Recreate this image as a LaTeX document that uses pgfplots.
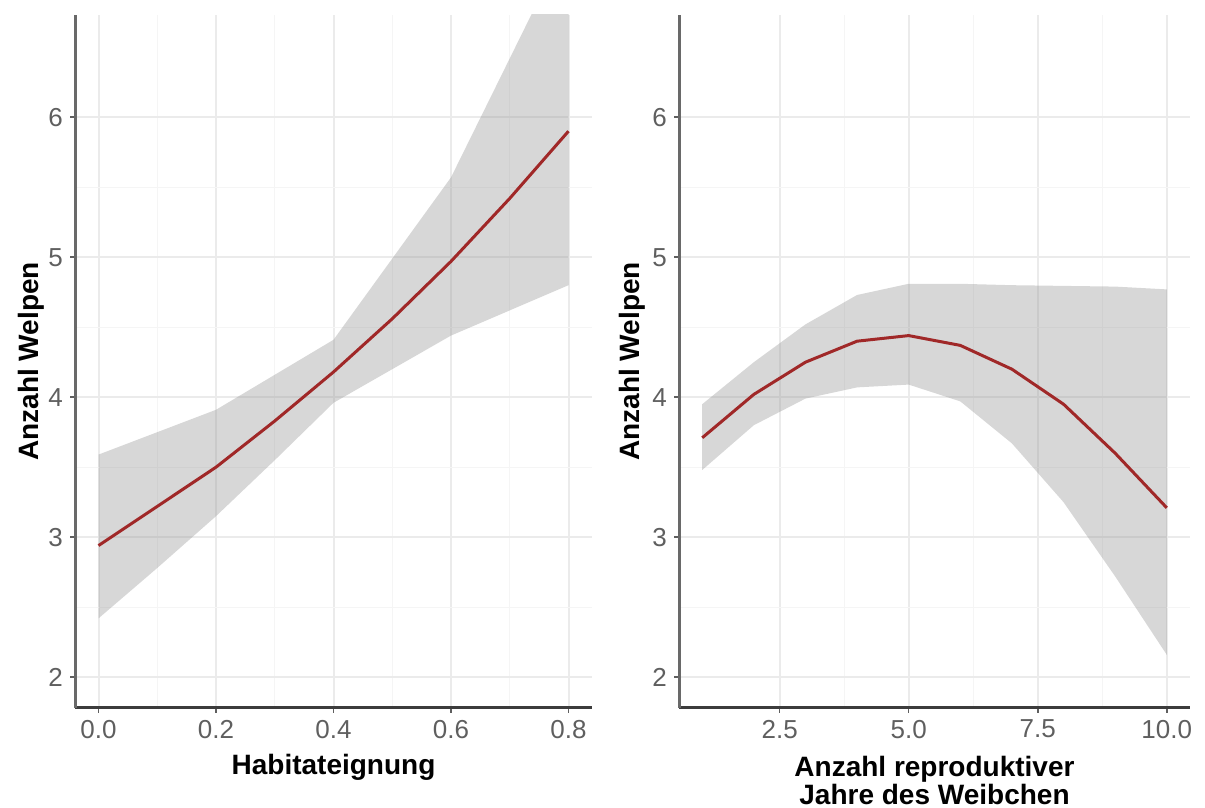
\documentclass[border=0pt]{standalone}
\usepackage{pgfplots}
\pgfplotsset{compat=1.18}
\usepgfplotslibrary{fillbetween}
\usepackage{fontspec}
\setmainfont{Liberation Sans}
\definecolor{linered}{RGB}{160,40,40}
\definecolor{ribbongrey}{RGB}{150,150,150}
\definecolor{tickgrey}{RGB}{95,95,95}
\definecolor{yaxisgrey}{RGB}{105,105,105}
\definecolor{xaxisgrey}{RGB}{60,60,60}
\definecolor{majgrid}{RGB}{235,235,235}
\definecolor{mingrid}{RGB}{245,245,245}

\pgfplotstableread{
x lo mid up
0.0 2.42 2.94 3.59
0.1 2.78 3.22 3.75
0.2 3.15 3.50 3.91
0.3 3.55 3.83 4.16
0.4 3.96 4.18 4.41
0.5 4.20 4.56 4.99
0.6 4.44 4.97 5.57
0.7 4.62 5.42 6.42
0.8 4.80 5.90 7.27
}\habitat

\pgfplotstableread{
x lo mid up
1 3.48 3.71 3.95
2 3.80 4.02 4.25
3 3.99 4.25 4.52
4 4.07 4.40 4.73
5 4.09 4.44 4.81
6 3.97 4.37 4.81
7 3.67 4.20 4.80
8 3.25 3.95 4.795
9 2.72 3.60 4.79
10 2.16 3.21 4.77
}\jahre

\begin{document}
\begin{tikzpicture}
\pgfplotsset{
  common/.style={
    scale only axis,
    height=346.5pt,
    ymin=1.78, ymax=6.73,
    ytick={2,3,4,5,6},
    minor y tick num=1,
    minor x tick num=1,
    axis x line=bottom,
    axis y line=left,
    x axis line style={-, line width=1.5pt, color=xaxisgrey},
    y axis line style={-, line width=1.5pt, color=yaxisgrey},
    tick align=outside,
    major tick length=2.5pt,
    minor tick length=0pt,
    tick style={color=tickgrey, line width=0.8pt},
    grid=both,
    major grid style={color=majgrid, line width=1pt},
    minor grid style={color=mingrid, line width=0.6pt},
    /pgf/number format/assume math mode=true,
    ticklabel style={font=\fontsize{13}{15}\selectfont, color=tickgrey},
    label style={font=\fontsize{14}{14}\bfseries\selectfont, color=black},
    xticklabel style={/pgf/number format/.cd, fixed, fixed zerofill, precision=1},
    yticklabel style={/pgf/number format/.cd, fixed, precision=0},
  }
}
\begin{axis}[common, at={(0,0)}, anchor=south west, width=258.5pt,
  xmin=-0.04, xmax=0.84, xtick={0,0.2,0.4,0.6,0.8},
  xlabel={Habitateignung}, ylabel={Anzahl Welpen},
  xlabel style={at={(axis description cs:0.5,-0.0851)}, anchor=center},
  ylabel style={at={(axis description cs:-0.0841,0.5)}, anchor=center}]
  \addplot[name path=up, draw=none, forget plot] table[x=x, y=up] {\habitat};
  \addplot[name path=lo, draw=none, forget plot] table[x=x, y=lo] {\habitat};
  \addplot[fill=ribbongrey, fill opacity=0.38, draw=none] fill between[of=up and lo];
  \addplot[color=linered, line width=1.5pt] table[x=x, y=mid] {\habitat};
\end{axis}
\begin{axis}[common, at={(302pt,0)}, anchor=south west, width=255.5pt,
  xmin=0.55, xmax=10.45, xtick={2.5,5,7.5,10},
  xlabel={Anzahl reproduktiver\\Jahre des Weibchen}, ylabel={Anzahl Welpen},
  xlabel style={at={(axis description cs:0.5,-0.1053)}, anchor=center, align=center},
  ylabel style={at={(axis description cs:-0.091,0.5)}, anchor=center}]
  \addplot[name path=up, draw=none, forget plot] table[x=x, y=up] {\jahre};
  \addplot[name path=lo, draw=none, forget plot] table[x=x, y=lo] {\jahre};
  \addplot[fill=ribbongrey, fill opacity=0.38, draw=none] fill between[of=up and lo];
  \addplot[color=linered, line width=1.5pt] table[x=x, y=mid] {\jahre};
\end{axis}
\pgfresetboundingbox
\useasboundingbox (-37.5pt,-50pt) rectangle (565pt,354pt);
\end{tikzpicture}
\end{document}
